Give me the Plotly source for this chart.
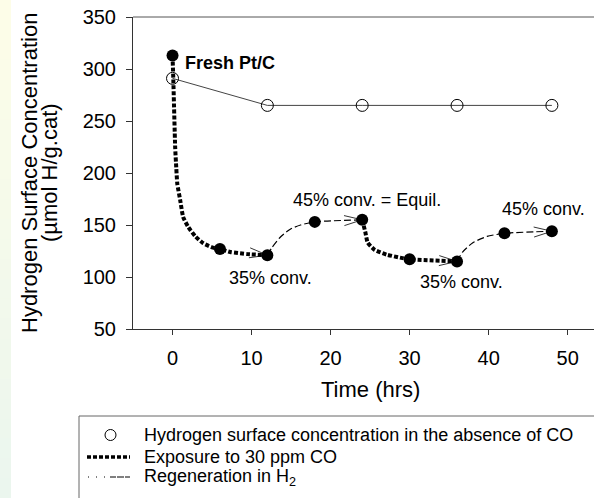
import plotly.graph_objects as go

# ---------------- data ----------------
time_no_co = [0, 12, 24, 36, 48]
h2_no_co = [291, 265, 265, 265, 265]

time_pts = [0, 6, 12, 18, 24, 30, 36, 42, 48]
h2_pts = [313, 127, 121, 153, 155, 117, 115, 142, 144]

# traced curve shapes
exp1_t = [0, 0.1, 0.34, 0.47, 0.6, 0.97, 1.35, 2.0, 2.9, 3.9, 5.0, 6, 7.3, 9.5, 12]
exp1_y = [313, 290, 224, 205.6, 190, 174, 157.6, 148, 139, 132.4, 128.5, 127, 124, 122, 121]
reg1_t = [12, 12.6, 13.6, 14.9, 16.2, 18, 24]
reg1_y = [121, 128.5, 138, 146, 150, 153, 155]
exp2_t = [24, 24.4, 24.7, 25.6, 27.1, 28.8, 30, 36]
exp2_y = [155, 143, 133, 126, 121.5, 118.6, 117, 115]
reg2_t = [36, 36.7, 38, 39.8, 42, 48]
reg2_y = [115, 124, 133, 139, 142, 144]

x_ticks = [0, 10, 20, 30, 40, 50]
y_ticks = [50, 100, 150, 200, 250, 300, 350]

legend_labels = ["Hydrogen surface concentration in the absence of CO",
                 "Exposure to 30 ppm CO",
                 "Regeneration in H<sub>2</sub>"]

# ---------------- layout constants ----------------
W, H = 594, 498
ML, MR, MT, MB = 133, 0, 17, 169
XR = [-5, 53.33]
YR = [50, 350]
PW = W - ML - MR
PH = H - MT - MB
XS = PW / (XR[1] - XR[0])
YS = PH / (YR[1] - YR[0])
FONT = "Liberation Sans, Arial, sans-serif"


def px_x(px):
    return (px - ML) / PW


def px_y(py):
    return (H - MB - py) / PH


fig = go.Figure()

dot_style = dict(color="black", width=4, dash="4px,2px", shape="spline", smoothing=0.5)
dash_style = dict(color="black", width=1.2, dash="7px,3px", shape="spline", smoothing=0.6)

fig.add_trace(go.Scatter(x=exp1_t, y=exp1_y, mode="lines", line=dot_style, hoverinfo="skip"))
fig.add_trace(go.Scatter(x=exp2_t, y=exp2_y, mode="lines", line=dot_style, hoverinfo="skip"))
fig.add_trace(go.Scatter(x=reg1_t, y=reg1_y, mode="lines", line=dash_style, hoverinfo="skip"))
fig.add_trace(go.Scatter(x=reg2_t, y=reg2_y, mode="lines", line=dash_style, hoverinfo="skip"))

# arrowheads at segment ends
def arrowhead(t0, y0, t1, y1, L=18, Wd=5):
    dxp = (t1 - t0) * XS
    dyp = (y1 - y0) * YS
    n = (dxp ** 2 + dyp ** 2) ** 0.5
    ux, uy = dxp / n, dyp / n
    nx, ny = -uy, ux
    bx1 = t1 + (-L * ux + Wd * nx) / XS
    by1 = y1 + (-L * uy + Wd * ny) / YS
    bx2 = t1 + (-L * ux - Wd * nx) / XS
    by2 = y1 + (-L * uy - Wd * ny) / YS
    return [bx1, t1, bx2], [by1, y1, by2]

for i in [2, 4, 6, 8]:
    ax, ay = arrowhead(time_pts[i - 1], h2_pts[i - 1], time_pts[i], h2_pts[i])
    fig.add_trace(go.Scatter(x=ax, y=ay, mode="lines", line=dict(color="black", width=0.8),
                             hoverinfo="skip"))

fig.add_trace(go.Scatter(x=time_no_co, y=h2_no_co, mode="lines+markers",
                         line=dict(color="#444", width=1),
                         marker=dict(symbol="circle-open", size=12, color="black",
                                     line=dict(width=1)),
                         cliponaxis=False, hoverinfo="skip"))
fig.add_trace(go.Scatter(x=time_pts, y=h2_pts, mode="markers",
                         marker=dict(symbol="circle", size=12, color="black"),
                         cliponaxis=False, hoverinfo="skip"))

shapes = []
# left gradient strip
nb = 25
c_top = (253, 253, 232)
c_bot = (235, 246, 238)
for k in range(nb):
    f = k / (nb - 1)
    col = tuple(round(c_top[j] + (c_bot[j] - c_top[j]) * f) for j in range(3))
    y0p = k * H / nb
    y1p = (k + 1) * H / nb + 1
    shapes.append(dict(type="rect", xref="paper", yref="paper",
                       x0=px_x(0), x1=px_x(11), y0=px_y(y0p), y1=px_y(y1p),
                       fillcolor="rgb(%d,%d,%d)" % col, line=dict(width=0), layer="below"))
# top frame line
shapes.append(dict(type="line", xref="paper", yref="paper", x0=0, x1=1, y0=1, y1=1,
                   line=dict(color="#555", width=1)))
# legend box
shapes.append(dict(type="rect", xref="paper", yref="paper",
                   x0=px_x(79), x1=px_x(610), y0=px_y(416), y1=px_y(520),
                   line=dict(color="#666", width=1), fillcolor="rgba(0,0,0,0)"))
# legend symbols
shapes.append(dict(type="circle", xref="paper", yref="paper",
                   x0=px_x(105), x1=px_x(116), y0=px_y(429.5), y1=px_y(440.5),
                   line=dict(color="black", width=1)))
shapes.append(dict(type="line", xref="paper", yref="paper",
                   x0=px_x(87), x1=px_x(130), y0=px_y(457), y1=px_y(457),
                   line=dict(color="black", width=3.5, dash="4px,2px")))
shapes.append(dict(type="line", xref="paper", yref="paper",
                   x0=px_x(88), x1=px_x(130), y0=px_y(477), y1=px_y(477),
                   line=dict(color="black", width=1, dash="1px,7px,1px,7px,1px,5px,6px")))

annotations = []
# axis titles
annotations.append(dict(text="Hydrogen Surface Concentration", xref="paper", yref="paper",
                        x=px_x(29), y=px_y(173), textangle=-90, showarrow=False,
                        xanchor="center", yanchor="middle", font=dict(size=22)))
annotations.append(dict(text="(µmol H/g.cat)", xref="paper", yref="paper",
                        x=px_x(49), y=px_y(173), textangle=-90, showarrow=False,
                        xanchor="center", yanchor="middle", font=dict(size=22)))
annotations.append(dict(text="Time (hrs)", xref="paper", yref="paper",
                        x=px_x(370), y=px_y(389), showarrow=False,
                        xanchor="center", yanchor="middle", font=dict(size=22)))
# point labels
def lab(text, px, py, anchor="left", bold=False):
    annotations.append(dict(text="<b>%s</b>" % text if bold else text,
                            xref="paper", yref="paper", x=px_x(px), y=px_y(py),
                            showarrow=False, xanchor=anchor, yanchor="middle",
                            font=dict(size=18)))

lab("Fresh Pt/C", 183, 63, bold=True)
lab("35% conv.", 227, 278)
lab("35% conv.", 418, 282)
lab("45% conv. = Equil.", 443, 200, anchor="right")
lab("45% conv.", 500, 209)
# legend texts
for txt, py in zip(legend_labels, [435, 457, 477]):
    lab(txt, 142, py)

fig.update_layout(
    width=W, height=H, margin=dict(l=ML, r=MR, t=MT, b=MB),
    plot_bgcolor="white", paper_bgcolor="white",
    showlegend=False, font=dict(family=FONT, color="black"),
    shapes=shapes, annotations=annotations,
)
fig.update_xaxes(range=XR, tickvals=x_ticks, ticks="outside", ticklen=5, tickcolor="#333",
                 showline=True, linecolor="#333", linewidth=1, showgrid=False, zeroline=False,
                 tickfont=dict(size=20), ticklabelstandoff=6)
fig.update_yaxes(range=YR, tickvals=y_ticks, ticks="outside", ticklen=6, tickcolor="#333",
                 showline=True, linecolor="#333", linewidth=1, showgrid=False, zeroline=False,
                 tickfont=dict(size=20), ticklabelstandoff=6)

fig.write_html("out.html")
